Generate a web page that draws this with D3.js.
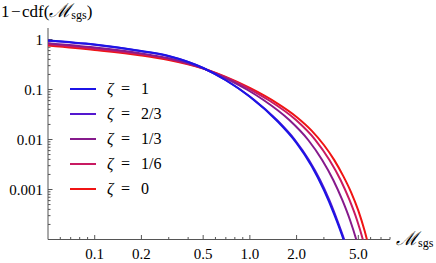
<!DOCTYPE html>
<html>
<head>
<meta charset="utf-8">
<script src="https://cdn.jsdelivr.net/npm/d3@7"></script>
<style>
  body { margin: 0; background: #fff; }
</style>
</head>
<body>
<script>
// data (log-log survival curves)
const zeta1 = {
  label: '1', color: '#1c14e6',
  m: [0.05, 0.1, 0.2, 0.3, 0.5, 0.7, 1.0, 1.5, 2.0, 2.5, 3.0, 3.5, 4.0, 4.43],
  v: [0.955, 0.794, 0.589, 0.468, 0.269, 0.153, 0.0718, 0.0234, 0.00847, 0.00296, 0.000973, 0.000316, 0.000103, 0.0000377]
};
const zeta23 = {
  label: '2/3', color: '#5418cf',
  m: [0.05, 0.1, 0.2, 0.3, 0.5, 0.697, 0.875, 1.068, 1.494, 1.954, 2.402, 2.834, 3.248, 3.652, 4.064, 4.464],
  v: [0.942, 0.783, 0.581, 0.463, 0.269, 0.155, 0.0977, 0.0617, 0.0245, 0.00977, 0.00389, 0.00155, 0.000617, 0.000245, 0.0000977, 0.0000389]
};
const zeta13 = {
  label: '1/3', color: '#861a8c',
  m: [0.05, 0.1, 0.2, 0.3, 0.5, 0.737, 0.968, 1.224, 1.796, 2.377, 2.923, 3.446, 3.94, 4.418, 4.859, 5.27],
  v: [0.843, 0.692, 0.527, 0.423, 0.265, 0.155, 0.0977, 0.0617, 0.0245, 0.00977, 0.00389, 0.00155, 0.000617, 0.000245, 0.0000977, 0.0000389]
};
const zeta16 = {
  label: '1/6', color: '#c81a62',
  m: [0.05, 0.1, 0.2, 0.3, 0.5, 0.761, 1.022, 1.318, 1.984, 2.646, 3.258, 3.842, 4.385, 4.9, 5.358, 5.77],
  v: [0.802, 0.655, 0.504, 0.407, 0.264, 0.155, 0.0977, 0.0617, 0.0245, 0.00977, 0.00389, 0.00155, 0.000617, 0.000245, 0.0000977, 0.0000389]
};
const zeta0 = {
  label: '0', color: '#f01414',
  m: [0.05, 0.1, 0.2, 0.3, 0.5, 0.7, 1.0, 1.5, 2.0, 2.5, 3.0, 3.5, 4.0, 4.5, 5.0, 5.5, 6.0],
  v: [0.759, 0.617, 0.479, 0.389, 0.263, 0.178, 0.1076, 0.053, 0.0283, 0.01507, 0.00776, 0.00387, 0.00185, 0.000867, 0.000377, 0.000146, 0.0000506]
};
const series = [zeta1, zeta23, zeta13, zeta16, zeta0];

const xMajor = [0.1, 0.2, 0.5, 1, 2, 5];
const xMajorLabels = ['0.1', '0.2', '0.5', '1.0', '2.0', '5.0'];
const xMinor = [0.06, 0.07, 0.08, 0.09, 0.3, 0.4, 0.6, 0.7, 0.8, 0.9, 3, 4, 6, 7, 8];
const yMajor = [1, 0.1, 0.01, 0.001];
const yMajorLabels = ['1', '0.1', '0.01', '0.001'];

const width = 436, height = 263;
const plotL = 48, plotR = 390, plotT = 28, plotB = 239.5;
const serif = '"Liberation Serif", "Times New Roman", "DejaVu Serif", serif';

const svg = d3.select('body').append('svg')
  .attr('width', width).attr('height', height)
  .style('font-family', serif);

const x = d3.scaleLog().domain([0.05, 8]).range([plotL, plotR]);
const y = d3.scaleLog().domain([1e-4, 1]).range([plotB, 39.5]);

// minor y ticks: 2..9 times each decade
let yMinor = [];
for (let k = -4; k <= 0; k++) {
  for (let j = 2; j <= 9; j++) {
    const val = j * Math.pow(10, k);
    if (y(val) >= plotT) yMinor.push(val);
  }
}

svg.append('defs').append('clipPath').attr('id', 'plot')
  .append('rect').attr('x', plotL).attr('y', plotT - 5)
  .attr('width', plotR - plotL + 20).attr('height', plotB - plotT + 5);

// axes lines
const axisColor = '#555';
svg.append('line').attr('x1', plotL).attr('x2', plotR).attr('y1', plotB).attr('y2', plotB)
  .attr('stroke', axisColor).attr('stroke-width', 1);
svg.append('line').attr('x1', plotL).attr('x2', plotL).attr('y1', plotT).attr('y2', plotB)
  .attr('stroke', axisColor).attr('stroke-width', 1);

// x ticks
svg.selectAll('.xmaj').data(xMajor).enter().append('line')
  .attr('x1', d => x(d)).attr('x2', d => x(d))
  .attr('y1', plotB).attr('y2', plotB - 4.5)
  .attr('stroke', axisColor);
svg.selectAll('.xmin').data(xMinor).enter().append('line')
  .attr('x1', d => x(d)).attr('x2', d => x(d))
  .attr('y1', plotB).attr('y2', plotB - 2.5)
  .attr('stroke', axisColor);
svg.selectAll('.xlab').data(xMajor).enter().append('text')
  .attr('x', d => x(d)).attr('y', 258.5)
  .attr('text-anchor', 'middle').attr('font-size', 15)
  .style('font-family', serif)
  .text((d, i) => xMajorLabels[i]);

// y ticks
svg.selectAll('.ymaj').data(yMajor).enter().append('line')
  .attr('x1', plotL).attr('x2', plotL + 4.5)
  .attr('y1', d => y(d)).attr('y2', d => y(d))
  .attr('stroke', axisColor);
svg.selectAll('.ymin').data(yMinor).enter().append('line')
  .attr('x1', plotL).attr('x2', plotL + 2.5)
  .attr('y1', d => y(d)).attr('y2', d => y(d))
  .attr('stroke', axisColor);
svg.selectAll('.ylab').data(yMajor).enter().append('text')
  .attr('x', 43).attr('y', d => y(d) + 5)
  .attr('text-anchor', 'end').attr('font-size', 15)
  .style('font-family', serif)
  .text((d, i) => yMajorLabels[i]);

// axis titles
const yt = svg.append('text').attr('x', 1).attr('y', 17).attr('font-size', 17)
  .style('font-family', serif);
yt.append('tspan').text('1\u200A\u2212\u200Acdf(');
yt.append('tspan').attr('font-size', 19).attr('font-style', 'italic').text('\u2133');
yt.append('tspan').attr('font-size', 12).attr('dy', 2).text('sgs');
yt.append('tspan').attr('dy', -2).text(')');

const xt = svg.append('text').attr('x', 396).attr('y', 245).attr('font-size', 17)
  .style('font-family', serif);
xt.append('tspan').attr('font-size', 19).attr('font-style', 'italic').text('\u2133');
xt.append('tspan').attr('font-size', 12).attr('dy', 2).text('sgs');

// curves
const line = d3.line()
  .x(d => x(d[0])).y(d => y(d[1]))
  .curve(d3.curveMonotoneX);

const g = svg.append('g').attr('clip-path', 'url(#plot)');
series.slice().reverse().forEach(s => {
  g.append('path')
    .datum(s.m.map((m, i) => [m, s.v[i]]))
    .attr('d', line)
    .attr('fill', 'none')
    .attr('stroke', s.color)
    .attr('stroke-width', 2);
});

// legend
const leg = svg.append('g');
series.forEach((s, i) => {
  const ly = 89 + i * 25;
  leg.append('line').attr('x1', 70).attr('x2', 96).attr('y1', ly).attr('y2', ly)
    .attr('stroke', s.color).attr('stroke-width', 2);
  const t = leg.append('text').attr('y', ly + 5).attr('font-size', 16)
    .style('font-family', serif);
  t.append('tspan').attr('x', 107).attr('font-style', 'italic').text('\u03B6');
  t.append('tspan').attr('x', 121).text('=');
  t.append('tspan').attr('x', 141).text(s.label);
});
</script>
</body>
</html>
